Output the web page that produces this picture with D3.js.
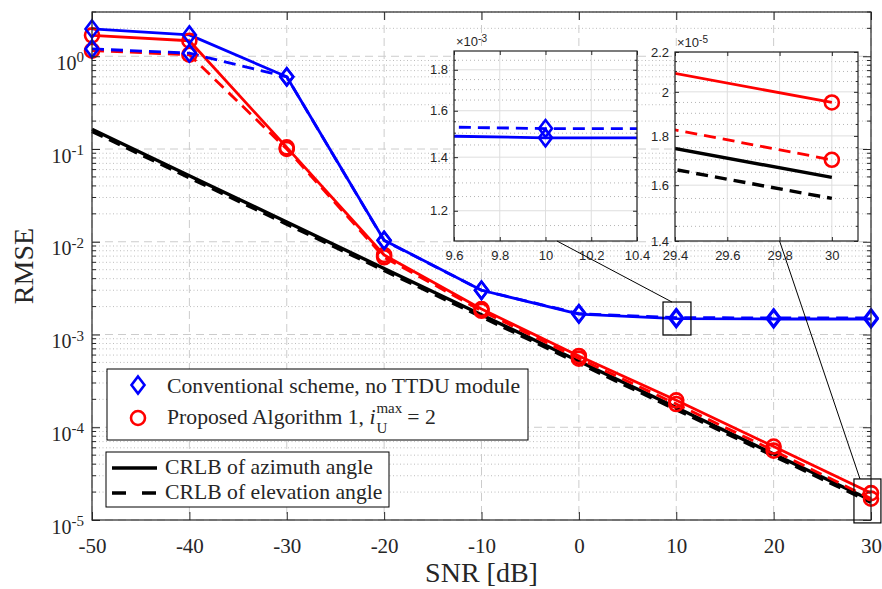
<!DOCTYPE html>
<html>
<head>
<meta charset="utf-8">
<script src="https://cdn.jsdelivr.net/npm/d3@7"></script>
<style>
  body { margin: 0; background: #fff; }
  svg { display: block; }
  text { white-space: pre; }
</style>
</head>
<body>
<div id="chart"></div>
<script>
// Page size and the main axes box
const width = 882;
const height = 589;
const margin = {left: 92, right: 11, top: 12, bottom: 69};

// Data (RMSE vs SNR)
const snr = [-50, -40, -30, -20, -10, 0, 10, 20, 30];
const convAzimuth   = [1.97, 1.70, 0.60, 0.0104, 0.0030, 0.00166, 0.00148, 0.00147, 0.00147];
const convElevation = [1.20, 1.08, 0.60, 0.0103, 0.0030, 0.00168, 0.00152, 0.00151, 0.00151];
const propAzimuth   = [1.68, 1.47, 0.104, 0.0072, 0.00188, 0.000587, 0.000195, 0.0000620, 0.0000195];
const propElevation = [1.15, 1.04, 0.100, 0.0068, 0.00180, 0.000550, 0.000178, 0.0000560, 0.0000170];
const crlbAzimuth   = [0.163, 0.0515, 0.0163, 0.00515, 0.00163, 0.000515, 0.000163, 0.0000515, 0.0000163];
const crlbElevation = [0.155, 0.0490, 0.0155, 0.00490, 0.00155, 0.000490, 0.000155, 0.0000490, 0.0000155];

// Tick values
const xTicks = [-50, -40, -30, -20, -10, 0, 10, 20, 30];
const yTicks = [1e-5, 1e-4, 1e-3, 1e-2, 1e-1, 1];
const inset1XTicks = [9.6, 9.8, 10, 10.2, 10.4];
const inset1YTicks = [1.2e-3, 1.4e-3, 1.6e-3, 1.8e-3];
const inset1YMinor = [1.15e-3, 1.25e-3, 1.3e-3, 1.35e-3, 1.45e-3, 1.5e-3, 1.55e-3, 1.65e-3, 1.7e-3, 1.75e-3, 1.85e-3];
const inset2XTicks = [29.4, 29.6, 29.8, 30];
const inset2YTicks = [1.4e-5, 1.6e-5, 1.8e-5, 2.0e-5, 2.2e-5];
const inset2YMinor = [1.45e-5, 1.5e-5, 1.55e-5, 1.65e-5, 1.7e-5, 1.75e-5, 1.85e-5, 1.9e-5, 1.95e-5, 2.05e-5, 2.1e-5, 2.15e-5];

const legendLabels = ["Conventional scheme, no TTDU module", "Proposed Algorithm 1, ",
                      "CRLB of azimuth angle", "CRLB of elevation angle"];

const BLUE = "#0000ff", RED = "#ff0000", INK = "#262626";
const DASH = "12,7";
const LEG_FONT = 21.7;

const seriesList = [
  {values: crlbAzimuth,   color: "#000", dash: null, lw: 3.4, marker: null},
  {values: crlbElevation, color: "#000", dash: DASH, lw: 3.4, marker: null},
  {values: propAzimuth,   color: RED,    dash: null, lw: 2.8, marker: "circle"},
  {values: propElevation, color: RED,    dash: DASH, lw: 2.8, marker: "circle"},
  {values: convAzimuth,   color: BLUE,   dash: null, lw: 2.8, marker: "diamond"},
  {values: convElevation, color: BLUE,   dash: DASH, lw: 2.8, marker: "diamond"}
];

const svg = d3.select("#chart")
  .append("svg")
  .attr("width", width)
  .attr("height", height)
  .style("font-family", "'Liberation Serif', 'Times New Roman', serif");

const x = d3.scaleLinear().domain([-50, 30]).range([margin.left, width - margin.right]);
const y = d3.scaleLog().domain([1e-5, 3]).range([height - margin.bottom, margin.top]);

const x0 = margin.left, x1 = width - margin.right;
const y0 = margin.top, y1 = height - margin.bottom;

const isDecade = v => Math.abs(Math.log10(v) - Math.round(Math.log10(v))) < 1e-9;
const yMinor = y.ticks().filter(v => !isDecade(v));

// marker shapes
const diamondPath = "M0,-8.5L6.5,0L0,8.5L-6.5,0Z";
function addMarker(g, type, color, tx, ty) {
  if (type === "circle") {
    g.append("circle").attr("cx", tx).attr("cy", ty).attr("r", 7)
      .attr("fill", "none").attr("stroke", color).attr("stroke-width", 2.6);
  } else if (type === "diamond") {
    g.append("path").attr("d", diamondPath)
      .attr("transform", `translate(${tx},${ty})`)
      .attr("fill", "none").attr("stroke", color).attr("stroke-width", 2.6);
  }
}

// draws all series with the given scales
function drawSeries(g, xs, ys, keep) {
  seriesList.forEach(s => {
    const pts = snr.map((v, i) => [v, s.values[i]]);
    g.append("path")
      .attr("d", d3.line().x(d => xs(d[0])).y(d => ys(d[1]))(pts))
      .attr("fill", "none")
      .attr("stroke", s.color)
      .attr("stroke-width", s.lw)
      .attr("stroke-dasharray", s.dash)
      .attr("stroke-linejoin", "round");
  });
  seriesList.forEach(s => {
    if (!s.marker) return;
    snr.forEach((v, i) => {
      if (keep && !keep(v, s.values[i])) return;
      addMarker(g, s.marker, s.color, xs(v), ys(s.values[i]));
    });
  });
}

/* Grid */
const grid = svg.append("g");
grid.selectAll(".minor").data(yMinor).enter().append("line")
  .attr("x1", x0).attr("x2", x1)
  .attr("y1", d => y(d)).attr("y2", d => y(d))
  .attr("stroke", "#bdbdbd").attr("stroke-dasharray", "1,2.5");
grid.selectAll(".majory").data(yTicks).enter().append("line")
  .attr("x1", x0).attr("x2", x1)
  .attr("y1", d => y(d)).attr("y2", d => y(d))
  .attr("stroke", "#cccccc").attr("stroke-dasharray", "8,5");
grid.selectAll(".majorx").data(xTicks).enter().append("line")
  .attr("x1", d => x(d)).attr("x2", d => x(d))
  .attr("y1", y0).attr("y2", y1)
  .attr("stroke", "#cccccc").attr("stroke-dasharray", "8,5");

/* Series */
drawSeries(svg.append("g"), x, y, null);

/* Axes: ticks point inward on all four sides */
svg.append("g")
  .attr("transform", `translate(0,${y1})`)
  .call(d3.axisBottom(x).tickValues(xTicks).tickSizeInner(-8).tickSizeOuter(0)
        .tickPadding(18).tickFormat(d => String(d)))
  .call(g => g.select(".domain").remove())
  .attr("font-size", 21).attr("font-family", null);
svg.append("g")
  .attr("transform", `translate(0,${y0})`)
  .call(d3.axisTop(x).tickValues(xTicks).tickSizeInner(-8).tickSizeOuter(0).tickFormat(""))
  .call(g => g.select(".domain").remove());

const yAxisL = svg.append("g")
  .attr("transform", `translate(${x0},0)`)
  .call(d3.axisLeft(y).tickValues(yTicks).tickSizeInner(-8).tickSizeOuter(0).tickPadding(8))
  .call(g => g.select(".domain").remove())
  .attr("font-size", 20).attr("font-family", null);
yAxisL.selectAll(".tick text").each(function(d) {
  const t = d3.select(this);
  t.text(null).attr("dy", "0.66em");
  t.append("tspan").text("10");
  t.append("tspan").attr("dy", "-0.5em").attr("font-size", 15).text(String(Math.round(Math.log10(d))));
});
svg.append("g")
  .attr("transform", `translate(${x1},0)`)
  .call(d3.axisRight(y).tickValues(yTicks).tickSizeInner(-8).tickSizeOuter(0).tickFormat(""))
  .call(g => g.select(".domain").remove());
// minor log ticks on both sides
[[x0, 4], [x1, -4]].forEach(([px, len]) => {
  svg.append("g").selectAll("line").data(yMinor).enter().append("line")
    .attr("x1", px).attr("x2", px + len)
    .attr("y1", d => y(d)).attr("y2", d => y(d))
    .attr("stroke", INK);
});
svg.selectAll(".tick line").attr("stroke", INK);
svg.selectAll(".tick text").attr("fill", INK);

svg.append("rect")
  .attr("x", x0).attr("y", y0).attr("width", x1 - x0).attr("height", y1 - y0)
  .attr("fill", "none").attr("stroke", INK).attr("stroke-width", 1.2);

// axis labels
svg.append("text")
  .attr("x", (x0 + x1) / 2).attr("y", 582)
  .attr("text-anchor", "middle").attr("font-size", 28).attr("fill", INK)
  .text("SNR [dB]");
svg.append("text")
  .attr("transform", `translate(33,${(y0 + y1) / 2}) rotate(-90)`)
  .attr("text-anchor", "middle").attr("font-size", 28).attr("fill", INK)
  .text("RMSE");

/* Legends */
const leg1 = svg.append("g");
leg1.append("rect").attr("x", 107).attr("y", 369).attr("width", 421).attr("height", 71)
  .attr("fill", "#fff").attr("stroke", "#000").attr("stroke-width", 1);
addMarker(leg1, "diamond", BLUE, 138, 385);
addMarker(leg1, "circle", RED, 138, 418);
leg1.append("text").attr("x", 167).attr("y", 393).attr("font-size", LEG_FONT).attr("fill", INK)
  .text(legendLabels[0]);
const t2 = leg1.append("text").attr("x", 167).attr("y", 424).attr("font-size", LEG_FONT).attr("fill", INK)
  .text(legendLabels[1]);
let cx = 167 + t2.node().getComputedTextLength();
const iT = leg1.append("text").attr("x", cx).attr("y", 424).attr("font-size", LEG_FONT)
  .attr("font-style", "italic").attr("fill", INK).text("i");
cx += iT.node().getComputedTextLength() + 1;
const supT = leg1.append("text").attr("x", cx).attr("y", 413).attr("font-size", 15).attr("fill", INK).text("max");
leg1.append("text").attr("x", cx).attr("y", 433).attr("font-size", 15).attr("fill", INK).text("U");
cx += supT.node().getComputedTextLength() + 5;
leg1.append("text").attr("x", cx).attr("y", 424).attr("font-size", LEG_FONT).attr("fill", INK).text("= 2");

const leg2 = svg.append("g");
leg2.append("rect").attr("x", 106).attr("y", 452).attr("width", 283).attr("height", 55)
  .attr("fill", "#fff").attr("stroke", "#000").attr("stroke-width", 1);
leg2.append("line").attr("x1", 112).attr("x2", 157).attr("y1", 468).attr("y2", 468)
  .attr("stroke", "#000").attr("stroke-width", 3.4);
leg2.append("line").attr("x1", 112).attr("x2", 157).attr("y1", 493).attr("y2", 493)
  .attr("stroke", "#000").attr("stroke-width", 3.4).attr("stroke-dasharray", "14,16");
leg2.append("text").attr("x", 165).attr("y", 474).attr("font-size", LEG_FONT).attr("fill", INK).text(legendLabels[2]);
leg2.append("text").attr("x", 165).attr("y", 499).attr("font-size", LEG_FONT).attr("fill", INK).text(legendLabels[3]);

/* Zoom boxes and connectors */
const zoomBoxes = [
  {xr: [8.64, 11.51], yr: [9.87e-4, 2.24e-3]},
  {xr: [28.25, 31.02], yr: [9.3e-6, 2.77e-5]}
];
zoomBoxes.forEach(b => {
  svg.append("rect")
    .attr("x", x(b.xr[0])).attr("y", y(b.yr[1]))
    .attr("width", x(b.xr[1]) - x(b.xr[0])).attr("height", y(b.yr[0]) - y(b.yr[1]))
    .attr("fill", "none").attr("stroke", "#000").attr("stroke-width", 1.2);
});

/* Insets */
function drawInset(id, box, xDomain, yDomain, xT, yT, yM, expo, scale, connect) {
  const ix = d3.scaleLinear().domain(xDomain).range([box.x0, box.x1]);
  const iy = d3.scaleLog().domain(yDomain).range([box.y1, box.y0]);
  const g = svg.append("g").style("font-family", "'Liberation Sans', Arial, sans-serif");

  // connector from zoom box up to inset
  svg.append("line")
    .attr("x1", x(connect.main[0])).attr("y1", y(connect.main[1]))
    .attr("x2", ix(connect.inset)).attr("y2", box.y1)
    .attr("stroke", "#000").attr("stroke-width", 1);

  g.append("rect").attr("x", box.x0).attr("y", box.y0)
    .attr("width", box.x1 - box.x0).attr("height", box.y1 - box.y0).attr("fill", "#fff");
  g.append("clipPath").attr("id", id).append("rect")
    .attr("x", box.x0).attr("y", box.y0)
    .attr("width", box.x1 - box.x0).attr("height", box.y1 - box.y0);

  g.selectAll(".mn").data(yM).enter().append("line")
    .attr("x1", box.x0).attr("x2", box.x1).attr("y1", d => iy(d)).attr("y2", d => iy(d))
    .attr("stroke", "#b5b5b5").attr("stroke-dasharray", "1,3");
  g.selectAll(".gy").data(yT).enter().append("line")
    .attr("x1", box.x0).attr("x2", box.x1).attr("y1", d => iy(d)).attr("y2", d => iy(d))
    .attr("stroke", "#dedede");
  g.selectAll(".gx").data(xT).enter().append("line")
    .attr("x1", d => ix(d)).attr("x2", d => ix(d)).attr("y1", box.y0).attr("y2", box.y1)
    .attr("stroke", "#dedede");

  const inner = g.append("g").attr("clip-path", `url(#${id})`);
  drawSeries(inner, ix, iy, (vx, vy) =>
    vx >= xDomain[0] && vx <= xDomain[1] && vy >= yDomain[0] && vy <= yDomain[1]);

  g.append("g").attr("transform", `translate(0,${box.y1})`)
    .call(d3.axisBottom(ix).tickValues(xT).tickSizeInner(-4).tickSizeOuter(0).tickPadding(10)
          .tickFormat(d3.format("~g")))
    .call(a => a.select(".domain").remove())
    .attr("font-size", 13).attr("font-family", null);
  g.append("g").attr("transform", `translate(0,${box.y0})`)
    .call(d3.axisTop(ix).tickValues(xT).tickSizeInner(-4).tickSizeOuter(0).tickFormat(""))
    .call(a => a.select(".domain").remove());
  g.append("g").attr("transform", `translate(${box.x0},0)`)
    .call(d3.axisLeft(iy).tickValues(yT).tickSizeInner(-4).tickSizeOuter(0).tickPadding(6)
          .tickFormat(d => d3.format("~g")(+(d / scale).toFixed(3))))
    .call(a => a.select(".domain").remove())
    .attr("font-size", 13).attr("font-family", null);
  g.append("g").attr("transform", `translate(${box.x1},0)`)
    .call(d3.axisRight(iy).tickValues(yT).tickSizeInner(-4).tickSizeOuter(0).tickFormat(""))
    .call(a => a.select(".domain").remove());
  [[box.x0, 2], [box.x1, -2]].forEach(([px, len]) => {
    g.append("g").selectAll("line").data(yM).enter().append("line")
      .attr("x1", px).attr("x2", px + len).attr("y1", d => iy(d)).attr("y2", d => iy(d))
      .attr("stroke", INK);
  });
  g.selectAll(".tick line").attr("stroke", INK);
  g.selectAll(".tick text").attr("fill", INK);

  g.append("rect").attr("x", box.x0).attr("y", box.y0)
    .attr("width", box.x1 - box.x0).attr("height", box.y1 - box.y0)
    .attr("fill", "none").attr("stroke", INK).attr("stroke-width", 1.2);

  const ex = g.append("text").attr("x", box.x0 + 2).attr("y", box.y0 - 5)
    .attr("font-size", 13).attr("fill", INK);
  ex.append("tspan").text("\u00d710");
  ex.append("tspan").attr("dy", "-0.45em").attr("font-size", 10).text(expo);
}

drawInset("clipA", {x0: 454, x1: 637, y0: 51, y1: 241}, [9.6, 10.4], [1.1e-3, 1.9e-3],
  inset1XTicks, inset1YTicks, inset1YMinor, "-3", 1e-3, {main: [9.56, 2.24e-3], inset: 10.05});
drawInset("clipB", {x0: 675, x1: 858, y0: 52, y1: 241}, [29.4, 30.1], [1.4e-5, 2.2e-5],
  inset2XTicks, inset2YTicks, inset2YMinor, "-5", 1e-5, {main: [28.87, 2.77e-5], inset: 29.8});
</script>
</body>
</html>
